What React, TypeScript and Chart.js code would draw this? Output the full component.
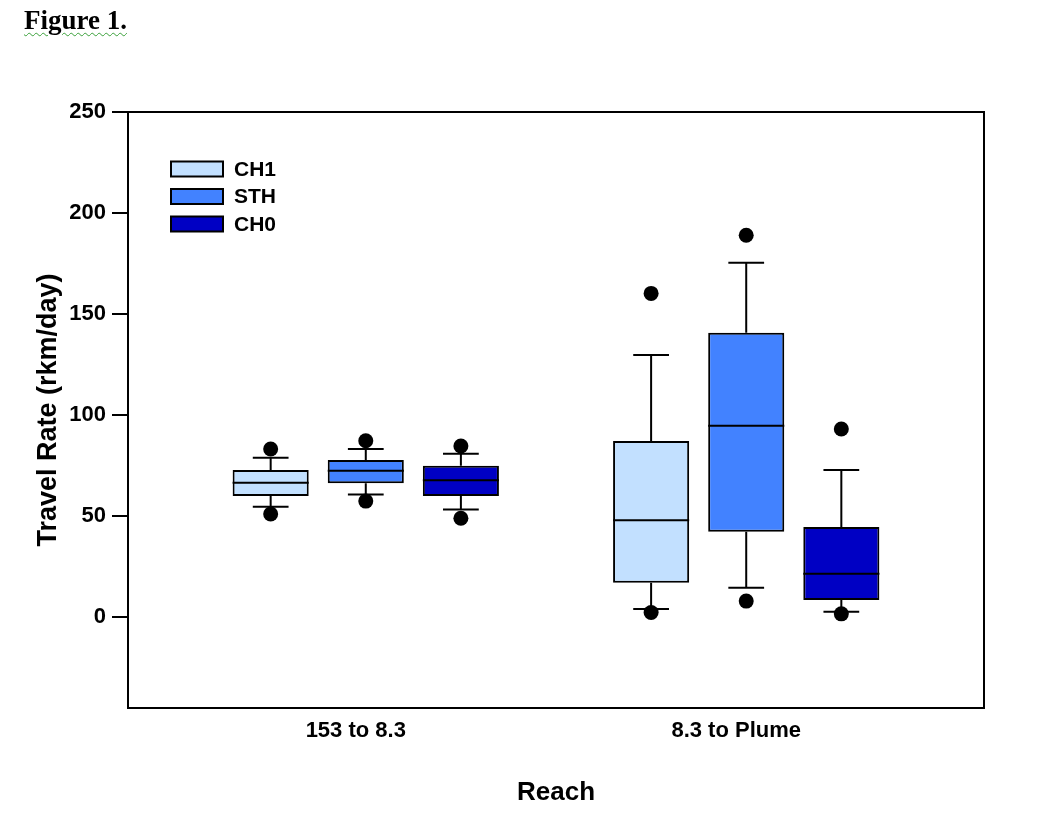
import React, { useEffect, useRef } from "react";
import { Chart, registerables } from "chart.js";

Chart.register(...registerables);

// ---- data ----
const reaches = ["153 to 8.3", "8.3 to Plume"];
const reachPositions = [1, 2];
const seriesNames = ["CH1", "STH", "CH0"];
const seriesColors = ["#C2E0FF", "#4282FF", "#0000C4"];
// per reach: [lower whisker, Q1, median, Q3, upper whisker]
const ch1Stats = [
  [54.6, 59.9, 66.5, 72.8, 78.9],
  [4.0, 17.0, 47.9, 87.1, 129.7],
];
const sthStats = [
  [60.7, 66.2, 72.4, 77.7, 83.2],
  [14.5, 42.2, 94.7, 140.7, 175.4],
];
const ch0Stats = [
  [53.3, 59.9, 67.7, 74.9, 80.8],
  [2.6, 8.4, 21.4, 44.6, 72.8],
];
// per reach: outlier points
const ch1Outliers = [
  [51.0, 83.2],
  [2.3, 160.2],
];
const sthOutliers = [
  [57.4, 87.3],
  [7.9, 189.0],
];
const ch0Outliers = [
  [48.9, 84.7],
  [1.6, 93.1],
];
const yTicks = [0, 50, 100, 150, 200, 250];
const yMin = -45;
const yMax = 250;
const xMin = 0.375;
const xMax = 2.625;

const FONT = "'Liberation Sans', Arial, Helvetica, sans-serif";

const boxPlotPlugin = {
  id: "boxPlot",
  afterDatasetsDraw(chart: any) {
    const ctx = chart.ctx;
    const yScale = chart.scales.y;
    ctx.save();
    chart.data.datasets.forEach((ds: any, i: number) => {
      const meta = chart.getDatasetMeta(i);
      meta.data.forEach((bar: any, j: number) => {
        const [lo, q1, med, q3, hi] = ds.stats[j];
        const { x, width } = bar.getProps(["x", "width"], true);
        const half = width / 2;
        const cap = width * 0.235;
        const pLo = yScale.getPixelForValue(lo);
        const pQ1 = yScale.getPixelForValue(q1);
        const pMed = yScale.getPixelForValue(med);
        const pQ3 = yScale.getPixelForValue(q3);
        const pHi = yScale.getPixelForValue(hi);
        ctx.strokeStyle = "#000";
        ctx.lineWidth = 2;
        ctx.beginPath();
        // median
        ctx.moveTo(x - half, pMed);
        ctx.lineTo(x + half, pMed);
        // upper whisker
        ctx.moveTo(x, pQ3);
        ctx.lineTo(x, pHi);
        ctx.moveTo(x - cap, pHi);
        ctx.lineTo(x + cap, pHi);
        // lower whisker
        ctx.moveTo(x, pQ1);
        ctx.lineTo(x, pLo);
        ctx.moveTo(x - cap, pLo);
        ctx.lineTo(x + cap, pLo);
        ctx.stroke();
        // outliers
        ctx.fillStyle = "#000";
        ds.outliers[j].forEach((v: number) => {
          ctx.beginPath();
          ctx.arc(x, yScale.getPixelForValue(v), 7.5, 0, Math.PI * 2);
          ctx.fill();
        });
      });
    });
    ctx.restore();
  },
};

const framePlugin = {
  id: "frame",
  afterDraw(chart: any) {
    const { ctx, chartArea } = chart;
    ctx.save();
    ctx.strokeStyle = "#000";
    ctx.lineWidth = 2;
    ctx.strokeRect(
      chartArea.left,
      chartArea.top,
      chartArea.right - chartArea.left,
      chartArea.bottom - chartArea.top
    );
    // legend
    const left = chartArea.left + 43;
    const top = chartArea.top + 57;
    ctx.font = `bold 21px ${FONT}`;
    ctx.textBaseline = "middle";
    ctx.textAlign = "left";
    chart.data.datasets.forEach((ds: any, i: number) => {
      const cy = top + i * 27.5;
      ctx.fillStyle = ds.backgroundColor;
      ctx.fillRect(left, cy - 7.5, 52, 15);
      ctx.strokeRect(left, cy - 7.5, 52, 15);
      ctx.fillStyle = "#000";
      ctx.fillText(ds.label, left + 63, cy + 1);
    });
    ctx.restore();
  },
};

export default function App() {
  const canvasRef = useRef<HTMLCanvasElement | null>(null);

  useEffect(() => {
    if (!canvasRef.current) return;
    const statsBySeries = [ch1Stats, sthStats, ch0Stats];
    const outliersBySeries = [ch1Outliers, sthOutliers, ch0Outliers];
    const chart = new Chart(canvasRef.current, {
      type: "bar",
      data: {
        datasets: seriesNames.map((name, i) => ({
          label: name,
          data: reachPositions.map((x, j) => ({
            x,
            y: [statsBySeries[i][j][1], statsBySeries[i][j][3]],
          })),
          backgroundColor: seriesColors[i],
          borderColor: "#000",
          borderWidth: 2,
          borderSkipped: false,
          categoryPercentage: 0.75,
          barPercentage: 0.8,
          stats: statsBySeries[i],
          outliers: outliersBySeries[i],
        })) as any,
      },
      options: {
        responsive: false,
        animation: false,
        devicePixelRatio: 1,
        layout: { padding: { top: 112, right: 75, left: 0, bottom: 0 } },
        plugins: {
          legend: { display: false },
          tooltip: { enabled: false },
        },
        scales: {
          x: {
            type: "linear",
            min: xMin,
            max: xMax,
            offset: false,
            afterBuildTicks: (s: any) => {
              s.ticks = reachPositions.map((v) => ({ value: v }));
            },
            afterFit: (s: any) => {
              s.height = 120;
            },
            ticks: {
              callback: (v: any) => {
                const i = reachPositions.indexOf(Number(v));
                return i >= 0 ? reaches[i] : "";
              },
              font: { family: FONT, size: 22, weight: "bold" },
              color: "#000",
              padding: 10,
              labelOffset: -10,
              autoSkip: false,
              maxRotation: 0,
            },
            grid: { display: false, drawTicks: false, offset: false },
            border: { display: false },
            title: {
              display: true,
              text: "Reach",
              font: { family: FONT, size: 26, weight: "bold" },
              color: "#000",
              padding: { bottom: 20, top: 0 },
            },
          },
          y: {
            type: "linear",
            min: yMin,
            max: yMax,
            afterBuildTicks: (s: any) => {
              s.ticks = yTicks.map((v) => ({ value: v }));
            },
            afterFit: (s: any) => {
              s.width = 128;
            },
            ticks: {
              font: { family: FONT, size: 22, weight: "bold" },
              color: "#000",
              padding: 6,
            },
            grid: {
              display: true,
              drawOnChartArea: false,
              drawTicks: true,
              tickLength: 16,
              color: "#000",
              lineWidth: 2,
            },
            border: { display: false },
            title: {
              display: true,
              text: "Travel Rate (rkm/day)",
              font: { family: FONT, size: 27, weight: "bold" },
              color: "#000",
              padding: { top: 32, bottom: 0 },
            },
          },
        },
      } as any,
      plugins: [boxPlotPlugin, framePlugin],
    });
    return () => chart.destroy();
  }, []);

  return (
    <div
      style={{
        position: "absolute",
        left: 0,
        top: 0,
        width: 1059,
        height: 828,
        background: "#fff",
      }}
    >
      <canvas
        ref={canvasRef}
        width={1059}
        height={828}
        style={{ display: "block", position: "absolute", left: 0, top: 0 }}
      />
      <div
        style={{
          position: "absolute",
          left: 24,
          top: 7,
          fontFamily: "'Liberation Serif', 'Times New Roman', serif",
          fontWeight: "bold",
          fontSize: 27,
          lineHeight: 1,
          color: "#000",
          textDecoration: "underline wavy #3aa03a",
          textDecorationThickness: "1px",
          textUnderlineOffset: "3px",
        }}
      >
        Figure 1.
      </div>
    </div>
  );
}
